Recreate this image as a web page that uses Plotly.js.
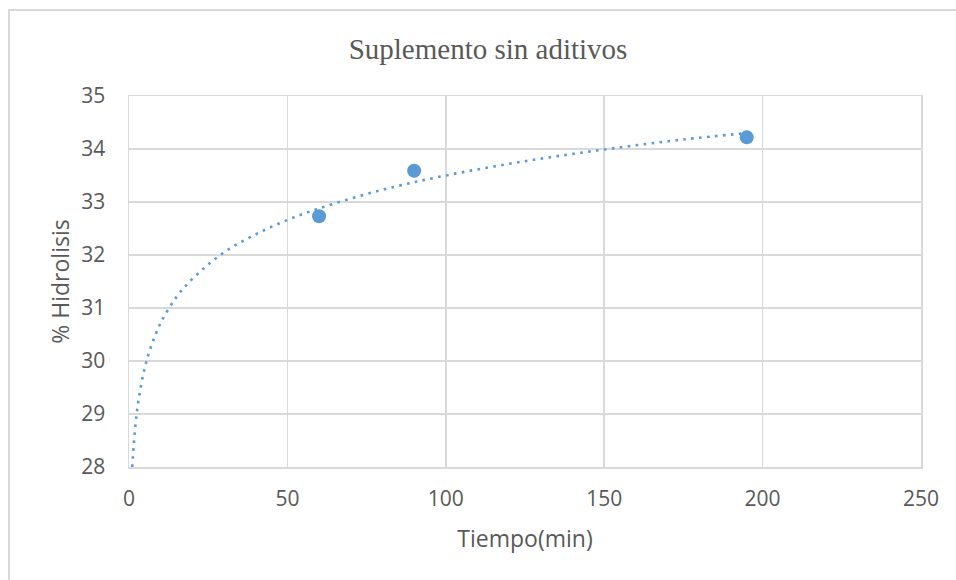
<!DOCTYPE html>
<html>
<head>
<meta charset="utf-8">
<script src="https://cdn.plot.ly/plotly-3.0.1.min.js"></script>
<style>
  html, body { margin: 0; padding: 0; overflow: hidden; background: #fff; }
  #chart { width: 956px; height: 580px; }
  #frame { position: absolute; left: 8px; top: 9px; width: 1000px; height: 1000px;
           border: 2px solid #d9d9d9; pointer-events: none; }
</style>
</head>
<body>
<div id="chart"></div>
<div id="frame"></div>
<script>
// Measured data points
const tiempo = [60, 90, 195];
const hidrolisis = [32.73, 33.59, 34.22];

// Trend line (logarithmic, dotted)
const trendX = [1, 2, 3, 5, 7, 10, 15, 20, 30, 40, 50, 60, 80, 100, 125, 150, 175, 195];
const trendY = [28.0, 28.77, 29.26, 29.88, 30.28, 30.72, 31.21, 31.55, 32.05, 32.39, 32.66, 32.88, 33.23, 33.5, 33.77, 33.99, 34.18, 34.3];

const xTicks = [0, 50, 100, 150, 200, 250];
const yTicks = [28, 29, 30, 31, 32, 33, 34, 35];

const blue = '#5b9bd5';
const grid = '#d9d9d9';
const txt = '#595959';
const sans = 'Open Sans, Liberation Sans, sans-serif';

const traces = [
  {
    x: trendX, y: trendY, type: 'scatter', mode: 'lines',
    line: { color: blue, width: 2.6, dash: '2.6px,5.4px', shape: 'spline', smoothing: 1 },
    hoverinfo: 'skip', showlegend: false
  },
  {
    x: tiempo, y: hidrolisis, type: 'scatter', mode: 'markers',
    marker: { color: blue, size: 14 },
    showlegend: false
  }
];

const layout = {
  width: 956, height: 580,
  paper_bgcolor: '#ffffff', plot_bgcolor: '#ffffff',
  margin: { l: 129, r: 35, t: 96, b: 113 },
  title: {
    text: 'Suplemento sin aditivos',
    font: { family: 'Liberation Serif, Times New Roman, serif', size: 29, color: txt },
    x: 0.5105, xanchor: 'center', y: 0.915, yanchor: 'middle'
  },
  xaxis: {
    range: [0, 250], tickvals: xTicks, ticktext: xTicks.map(String),
    showgrid: true, gridcolor: grid, gridwidth: 1.5,
    showline: true, linecolor: grid, linewidth: 1.5, mirror: true,
    zeroline: false,
    ticks: 'outside', ticklen: 12, tickcolor: 'rgba(0,0,0,0)',
    tickfont: { family: sans, size: 21, color: txt },
    title: { text: 'Tiempo(min)', standoff: 20,
             font: { family: sans, size: 23, color: txt } }
  },
  yaxis: {
    range: [28, 35], tickvals: yTicks, ticktext: yTicks.map(String),
    showgrid: true, gridcolor: grid, gridwidth: 1.5,
    showline: true, linecolor: grid, linewidth: 1.5, mirror: true,
    zeroline: false,
    ticks: 'outside', ticklen: 18, tickcolor: 'rgba(0,0,0,0)',
    tickfont: { family: sans, size: 21, color: txt },
    title: { text: '% Hidrolisis', standoff: 5,
             font: { family: sans, size: 23, color: txt } }
  }
};

Plotly.newPlot('chart', traces, layout, { displayModeBar: false, staticPlot: true });
</script>
</body>
</html>
